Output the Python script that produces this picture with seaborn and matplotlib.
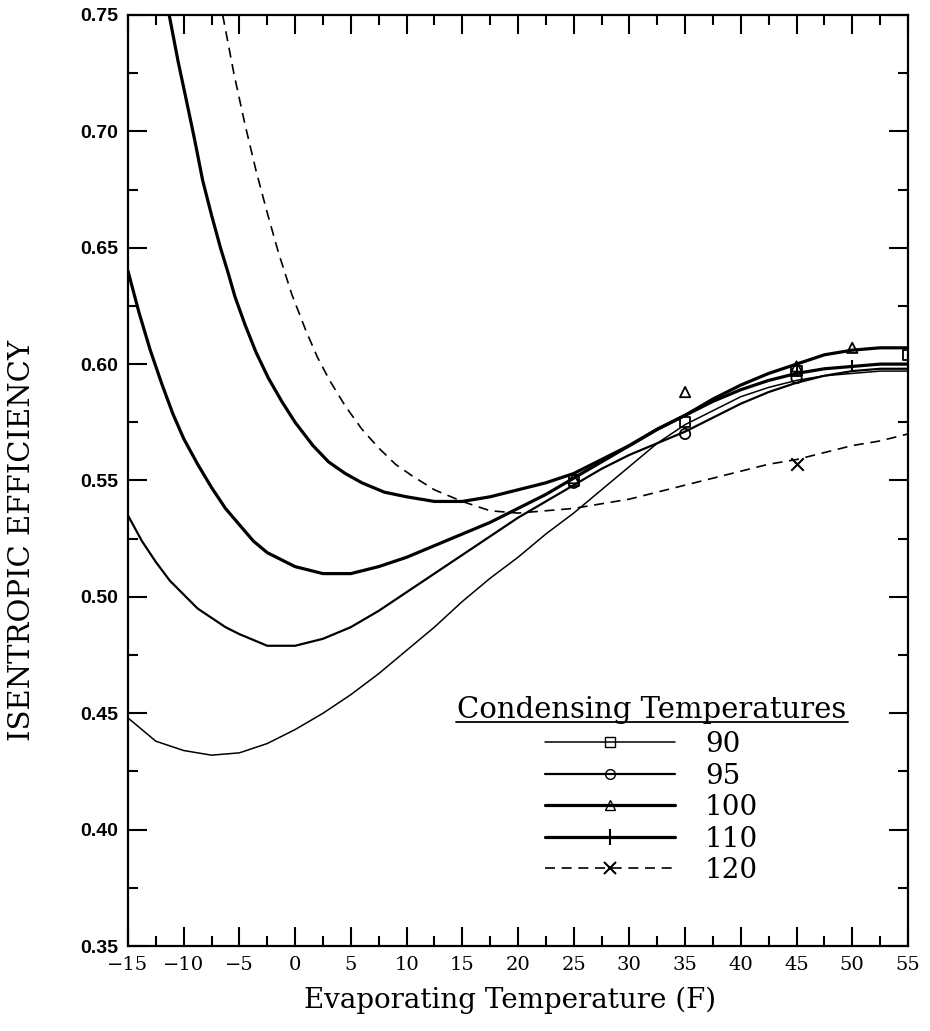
import pandas as pd
import numpy as np
import seaborn as sns
import matplotlib.pyplot as plt
from matplotlib.lines import Line2D
from matplotlib.ticker import MultipleLocator

# Curve values (Evaporating temp F -> isentropic efficiency)
x_90 = [-15, -12.5, -10, -7.5, -5, -2.5, 0, 2.5, 5, 7.5, 10, 12.5, 15, 17.5, 20,
        22.5, 25, 27.5, 30, 32.5, 35, 37.5, 40, 42.5, 45, 47.5, 50, 52.5, 55]
eff_90 = [0.448, 0.438, 0.434, 0.432, 0.433, 0.437, 0.443, 0.450, 0.458, 0.467, 0.477,
          0.487, 0.498, 0.508, 0.517, 0.527, 0.536, 0.546, 0.556, 0.566, 0.574, 0.580,
          0.586, 0.590, 0.593, 0.595, 0.596, 0.597, 0.597]

x_95 = [-15, -13.75, -12.5, -11.25, -10, -8.75, -7.5, -6.25, -5, -2.5, 0, 2.5, 5, 7.5,
        10, 12.5, 15, 17.5, 20, 22.5, 25, 27.5, 30, 32.5, 35, 37.5, 40, 42.5, 45, 47.5,
        50, 52.5, 55]
eff_95 = [0.535, 0.524, 0.515, 0.507, 0.501, 0.495, 0.491, 0.487, 0.484, 0.479, 0.479,
          0.482, 0.487, 0.494, 0.502, 0.510, 0.518, 0.526, 0.534, 0.541, 0.548, 0.555,
          0.561, 0.566, 0.571, 0.577, 0.583, 0.588, 0.592, 0.595, 0.597, 0.598, 0.598]

x_100 = [-15, -14, -13, -12, -11, -10, -8.75, -7.5, -6.25, -5, -3.75, -2.5, -1.25, 0,
         2.5, 5, 7.5, 10, 12.5, 15, 17.5, 20, 22.5, 25, 27.5, 30, 32.5, 35, 37.5, 40,
         42.5, 45, 47.5, 50, 52.5, 55]
eff_100 = [0.640, 0.622, 0.606, 0.592, 0.579, 0.568, 0.557, 0.547, 0.538, 0.531, 0.524,
           0.519, 0.516, 0.513, 0.510, 0.510, 0.513, 0.517, 0.522, 0.527, 0.532, 0.538,
           0.544, 0.551, 0.558, 0.565, 0.572, 0.578, 0.585, 0.591, 0.596, 0.600, 0.604,
           0.606, 0.607, 0.607]

x_110 = [-11.3, -10.5, -9.7, -9, -8.3, -7.5, -6.7, -6, -5.4, -4.5, -3.5, -2.4, -1.2, 0,
         1.6, 3, 4.5, 6, 8, 10, 12.5, 15, 17.5, 20, 22.5, 25, 27.5, 30, 32.5, 35, 37.5,
         40, 42.5, 45, 47.5, 50, 52.5, 55]
eff_110 = [0.750, 0.730, 0.712, 0.696, 0.679, 0.664, 0.650, 0.639, 0.629, 0.617, 0.605,
           0.594, 0.584, 0.575, 0.565, 0.558, 0.553, 0.549, 0.545, 0.543, 0.541, 0.541,
           0.543, 0.546, 0.549, 0.553, 0.559, 0.565, 0.572, 0.578, 0.584, 0.589, 0.593,
           0.596, 0.598, 0.599, 0.600, 0.600]

x_120 = [-6.5, -5.5, -4.5, -3.5, -2.5, -1.5, -0.3, 1, 2, 3.1, 4.5, 6, 7.5, 9, 10.5, 12.5,
         15, 17.5, 20, 22.5, 25, 27.5, 30, 32.5, 35, 37.5, 40, 42.5, 45, 47.5, 50, 52.5,
         55]
eff_120 = [0.750, 0.725, 0.703, 0.683, 0.665, 0.648, 0.630, 0.614, 0.603, 0.593, 0.582,
           0.572, 0.564, 0.557, 0.552, 0.546, 0.541, 0.537, 0.536, 0.537, 0.538, 0.540,
           0.542, 0.545, 0.548, 0.551, 0.554, 0.557, 0.559, 0.562, 0.565, 0.567, 0.570]

# Measured points (markers)
pts_90_x, pts_90_y = [25, 35, 45, 55], [0.550, 0.575, 0.597, 0.604]
pts_95_x, pts_95_y = [25, 35, 45], [0.549, 0.570, 0.594]
pts_100_x, pts_100_y = [25, 35, 45, 50], [0.551, 0.588, 0.599, 0.607]
pts_110_x, pts_110_y = [45, 50, 55], [0.597, 0.599, 0.602]
pts_120_x, pts_120_y = [45], [0.557]

labels = ['90', '95', '100', '110', '120']
x_ticks = list(range(-15, 60, 5))
y_ticks = [0.35, 0.40, 0.45, 0.50, 0.55, 0.60, 0.65, 0.70, 0.75]

sns.set_theme(style='white')
plt.rcParams['font.family'] = ['DejaVu Serif']
plt.rcParams['text.color'] = 'black'
plt.rcParams['axes.labelcolor'] = 'black'
plt.rcParams['xtick.color'] = 'black'
plt.rcParams['ytick.color'] = 'black'

fig = plt.figure(figsize=(9.3, 10.31), dpi=100)
ax = fig.add_axes([0.1376, 0.0824, 0.8387, 0.9031])

dash = (0, (6, 4))
curves = [
    (x_90, eff_90, 1.1, '-'),
    (x_95, eff_95, 1.6, '-'),
    (x_100, eff_100, 2.3, '-'),
    (x_110, eff_110, 2.3, '-'),
    (x_120, eff_120, 1.2, dash),
]
for xs, ys, lw, ls in curves:
    sns.lineplot(x=xs, y=ys, ax=ax, color='black', linewidth=lw, linestyle=ls,
                 sort=False, estimator=None)

markers = [
    (pts_90_x, pts_90_y, 's'),
    (pts_95_x, pts_95_y, 'o'),
    (pts_100_x, pts_100_y, '^'),
    (pts_110_x, pts_110_y, '|'),
    (pts_120_x, pts_120_y, 'x'),
]
for xs, ys, m in markers:
    if m in ('|', 'x'):
        sns.scatterplot(x=xs, y=ys, ax=ax, marker=m, color='black', s=80, linewidth=1.5)
    else:
        sns.scatterplot(x=xs, y=ys, ax=ax, marker=m, facecolor='none', edgecolor='black',
                        s=55, linewidth=1.3)

ax.set_xlim(-15, 55)
ax.set_ylim(0.35, 0.75)
ax.set_xticks(x_ticks)
ax.set_yticks(y_ticks)
ax.set_xticklabels([str(t).replace('-', '\u2212') for t in x_ticks], fontsize=14,
                   family='DejaVu Serif', color='black')
ax.set_yticklabels([f'{t:.2f}' for t in y_ticks], fontsize=14, fontweight='bold',
                   family='Liberation Sans', color='black')
ax.xaxis.set_minor_locator(MultipleLocator(2.5))
ax.yaxis.set_minor_locator(MultipleLocator(0.025))
ax.tick_params(which='both', direction='in', top=True, right=True, bottom=True,
               left=True, width=1.5, color='black', pad=7)
ax.tick_params(which='major', length=14)
ax.tick_params(which='minor', length=7)
for sp in ax.spines.values():
    sp.set_linewidth(1.6)
    sp.set_color('black')

ax.set_xlabel('Evaporating Temperature (F)', fontsize=20)
ax.xaxis.set_label_coords(0.49, -0.044)
ax.set_ylabel('ISENTROPIC EFFICIENCY', fontsize=21)
ax.yaxis.set_label_coords(-0.118, 0.436)

# Legend
handles = [
    Line2D([], [], color='black', lw=1.1, marker='s', mfc='none', ms=7),
    Line2D([], [], color='black', lw=1.6, marker='o', mfc='none', ms=7),
    Line2D([], [], color='black', lw=2.3, marker='^', mfc='none', ms=7),
    Line2D([], [], color='black', lw=2.3, marker='|', ms=11, mew=1.5),
    Line2D([], [], color='black', lw=1.2, ls=dash, marker='x', ms=8, mew=1.5),
]
ax.legend(handles, labels, loc='upper left', bbox_to_anchor=(0.506, 0.2546),
          frameon=False, fontsize=20, handlelength=4.68, handletextpad=1.08,
          labelspacing=0.16, numpoints=1, borderpad=0.3)
ax.text(0.672, 0.245, 'Condensing Temperatures', transform=ax.transAxes,
        fontsize=21, ha='center', va='baseline')
ax.plot([0.4205, 0.923], [0.2406, 0.2406], transform=ax.transAxes, color='black', lw=1.3)

plt.savefig('out.png', dpi=100)
